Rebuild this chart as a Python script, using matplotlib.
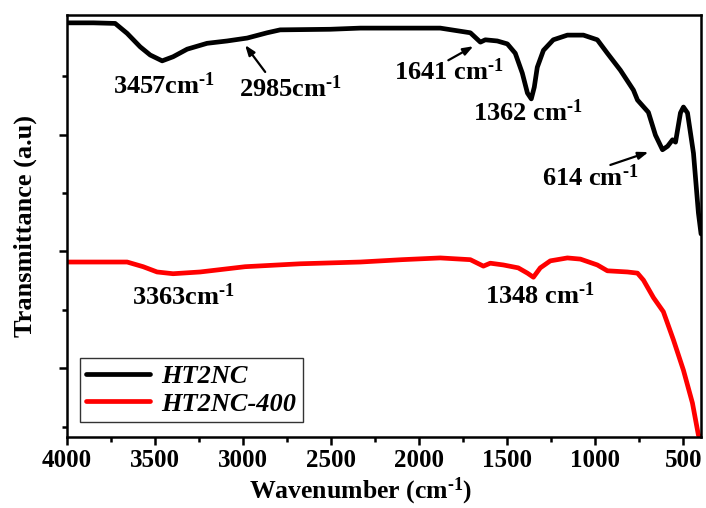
import matplotlib
matplotlib.use("Agg")
import matplotlib.pyplot as plt
from matplotlib.ticker import MultipleLocator

plt.rcParams['font.family'] = ['Liberation Serif', 'DejaVu Serif']
plt.rcParams['font.weight'] = 'bold'
plt.rcParams['mathtext.fontset'] = 'custom'
plt.rcParams['mathtext.rm'] = 'Liberation Serif:bold'
plt.rcParams['mathtext.bf'] = 'Liberation Serif:bold'
plt.rcParams['mathtext.it'] = 'Liberation Serif:bold:italic'

# FTIR spectra (wavenumber in cm^-1, transmittance in arbitrary offset units)
wn_ht2nc = [4000, 3850, 3727, 3659, 3585, 3528, 3460, 3398, 3318, 3205, 3091,
            2977, 2864, 2790, 2506, 2335, 2100, 1881, 1710, 1653, 1625, 1557,
            1500, 1455, 1415, 1386, 1364, 1347, 1330, 1295, 1239, 1159, 1068,
            989, 932, 858, 784, 761, 699, 659, 619, 590, 562, 545, 517, 500,
            477, 443, 415, 400]
tr_ht2nc = [6.91, 6.91, 6.90, 6.73, 6.50, 6.36, 6.26, 6.33, 6.46, 6.56, 6.60,
            6.65, 6.74, 6.79, 6.80, 6.82, 6.82, 6.82, 6.74, 6.58, 6.62, 6.60,
            6.55, 6.39, 6.05, 5.71, 5.61, 5.81, 6.15, 6.44, 6.62, 6.70, 6.70,
            6.62, 6.39, 6.10, 5.76, 5.59, 5.38, 4.99, 4.74, 4.80, 4.91, 4.87,
            5.37, 5.47, 5.37, 4.68, 3.66, 3.30]

wn_ht2nc400 = [4000, 3850, 3659, 3568, 3489, 3398, 3244, 2989, 2676, 2335,
               2100, 1881, 1710, 1636, 1597, 1523, 1438, 1386, 1352, 1313,
               1256, 1159, 1085, 989, 932, 818, 761, 727, 670, 614, 557, 500,
               449, 415, 400]
tr_ht2nc400 = [2.82, 2.82, 2.82, 2.74, 2.65, 2.62, 2.65, 2.74, 2.79, 2.82,
               2.86, 2.89, 2.86, 2.75, 2.80, 2.77, 2.72, 2.63, 2.56, 2.72,
               2.84, 2.89, 2.87, 2.77, 2.67, 2.65, 2.63, 2.51, 2.21, 1.97,
               1.49, 0.97, 0.41, -0.14, -0.17]

x_ticks = [4000, 3500, 3000, 2500, 2000, 1500, 1000, 500]

fig = plt.figure(figsize=(7.06, 5.08), dpi=100)
ax = fig.add_axes([0.095, 0.140, 0.898, 0.830])

ax.plot(wn_ht2nc, tr_ht2nc, color='black', lw=3.4, label='HT2NC',
        solid_joinstyle='round', solid_capstyle='round')
ax.plot(wn_ht2nc400, tr_ht2nc400, color='#ff0000', lw=3.4, label='HT2NC-400',
        solid_joinstyle='round', solid_capstyle='round')

ax.set_xlim(4000, 400)
ax.set_ylim(-0.17, 7.04)
ax.set_xticks(x_ticks)
ax.set_xticklabels([str(t) for t in x_ticks])
ax.xaxis.set_minor_locator(MultipleLocator(250))
ax.set_yticks([1, 3, 5])
ax.set_yticks([0, 2, 4, 6], minor=True)
ax.set_yticklabels([])

for s in ax.spines.values():
    s.set_linewidth(1.8)
ax.tick_params(axis='both', which='major', direction='out', length=6,
               width=1.8, labelsize=18, pad=3)
ax.tick_params(axis='both', which='minor', direction='out', length=3.5,
               width=1.8)
for lab in ax.get_xticklabels():
    lab.set_fontweight('bold')

sup = r'$^{\text{-1}}$'
ax.set_xlabel('Wavenumber (cm' + sup + ')', fontsize=18.5,
              fontweight='bold', va='top')
ax.xaxis.set_label_coords(0.463, -0.091)
ax.set_ylabel('Transmittance (a.u)', fontsize=19, fontweight='bold')
ax.yaxis.set_label_coords(-0.048, 0.5)

lab_kw = dict(fontsize=19, fontweight='bold', ha='center', va='center')
ax.text(3450, 5.84, '3457cm' + sup, **lab_kw)
ax.text(2733, 5.79, '2985cm' + sup, **lab_kw)
ax.text(1830, 6.07, '1641 cm' + sup, **lab_kw)
ax.text(1381, 5.37, '1362 cm' + sup, **lab_kw)
ax.text(1030, 4.27, '614 cm' + sup, **lab_kw)
ax.text(3340, 2.22, '3363cm' + sup, **lab_kw)
ax.text(1315, 2.24, '1348 cm' + sup, **lab_kw)

arrow_kw = dict(arrowstyle='-|>,head_length=0.6,head_width=0.22',
                color='black', lw=1.6, shrinkA=0, shrinkB=0)
ax.annotate('', xy=(2989, 6.53), xytext=(2875, 6.07), arrowprops=arrow_kw)
ax.annotate('', xy=(1693, 6.51), xytext=(1835, 6.27), arrowprops=arrow_kw)
ax.annotate('', xy=(699, 4.70), xytext=(915, 4.48), arrowprops=arrow_kw)

leg = ax.legend(loc='lower left', bbox_to_anchor=(0.02, 0.035),
                prop={'family': 'Liberation Serif', 'weight': 'bold',
                      'style': 'italic', 'size': 19},
                frameon=True, fancybox=False, edgecolor='black',
                handlelength=2.4, handletextpad=0.45, borderpad=0.25,
                labelspacing=0.15, borderaxespad=0)
leg.get_frame().set_linewidth(1.0)

fig.savefig('out.png', dpi=100)
